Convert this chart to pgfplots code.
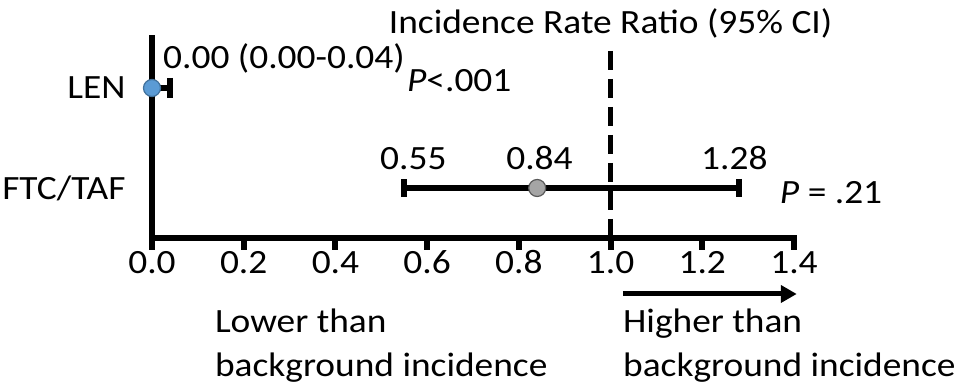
\documentclass[border=0pt]{standalone}
\usepackage{fontspec}
\setmainfont{Carlito}[FakeStretch=1.1]
\usepackage{pgfplots}
\pgfplotsset{compat=1.18}
\usetikzlibrary{calc,arrows.meta}
\definecolor{lenblue}{HTML}{5B9BD5}
\definecolor{lenedge}{HTML}{41719C}
\definecolor{ftcgray}{HTML}{A5A5A5}
\definecolor{ftcedge}{HTML}{595959}
\begin{document}
\begin{tikzpicture}[font=\fontsize{34pt}{41pt}\selectfont]
\begin{axis}[
  scale only axis, width=642pt, height=200pt,
  xmin=0, xmax=1.4, ymin=0, ymax=2,
  axis x line*=bottom, axis y line*=left,
  axis line style={line width=6pt, line cap=rect, black},
  xtick={0,0.2,0.4,0.6,0.8,1.0,1.2,1.4},
  xticklabels={0.0,0.2,0.4,0.6,0.8,1.0,1.2,1.4},
  tick align=outside,
  major tick length=12pt,
  x tick style={line width=6pt, black},
  ytick={0.5,1.5}, yticklabels={FTC/TAF,LEN},
  y tick style={draw=none},
  xticklabel style={anchor=base, yshift=-24pt},
  yticklabel style={anchor=east, xshift=-11pt},
  clip=false,
]
\coordinate (O) at (axis cs:0,0);
% dashed reference line at IRR = 1
\draw[line width=5.5pt, dash pattern=on 19pt off 9pt] (axis cs:1,1.87) -- (axis cs:1,0);
% error bars
\addplot[black, mark=none, forget plot,
  error bars/.cd, x dir=plus, x explicit, error mark=|,
  error bar style={line width=6pt, black},
  error mark options={line width=6pt, mark size=10pt, black}]
  coordinates {(0,1.5) +- (0.04,0)};
\addplot[black, mark=none, forget plot,
  error bars/.cd, x dir=both, x explicit, error mark=|,
  error bar style={line width=6pt, black},
  error mark options={line width=6pt, mark size=9pt, black}]
  coordinates {(0.84,0.5) -= (0.29,0) += (0.44,0)};
% point estimates
\addplot[only marks, mark=*, mark size=8.5pt,
  mark options={fill=lenblue, draw=lenedge, line width=1.2pt}]
  coordinates {(0,1.5)};
\addplot[only marks, mark=*, mark size=8.5pt,
  mark options={fill=ftcgray, draw=ftcedge, line width=1.2pt}]
  coordinates {(0.84,0.5)};
% annotations
\node[anchor=base] at (axis cs:1.0,2.04) {Incidence Rate Ratio (95\% CI)};
\node[anchor=base west, inner sep=0pt] at (axis cs:0.024,1.69) {0.00 (0.00-0.04)};
\node[anchor=base west, inner sep=0pt] at (axis cs:0.556,1.46) {\textit{P}<.001};
\node[anchor=base, inner sep=0pt] at (axis cs:0.57,0.68) {0.55};
\node[anchor=base, inner sep=0pt] at (axis cs:0.845,0.68) {0.84};
\node[anchor=base, inner sep=0pt] at (axis cs:1.27,0.68) {1.28};
\node[anchor=base west, inner sep=0pt] at (axis cs:1.369,0.34) {\textit{P} = .21};
\draw[line width=5pt, -{Triangle[length=16pt,width=17pt]}] (axis cs:1.027,-0.56) -- (axis cs:1.406,-0.56);
\node[anchor=base west, inner sep=0pt] at (axis cs:0.137,-0.95) {Lower than};
\node[anchor=base west, inner sep=0pt] at (axis cs:0.137,-1.39) {background incidence};
\node[anchor=base west, inner sep=0pt] at (axis cs:1.027,-0.95) {Higher than};
\node[anchor=base west, inner sep=0pt] at (axis cs:1.027,-1.39) {background incidence};
\end{axis}
\pgfresetboundingbox
\path[use as bounding box] ($(O)+(-152pt,-149pt)$) rectangle ($(O)+(802pt,238pt)$);
\end{tikzpicture}
\end{document}
